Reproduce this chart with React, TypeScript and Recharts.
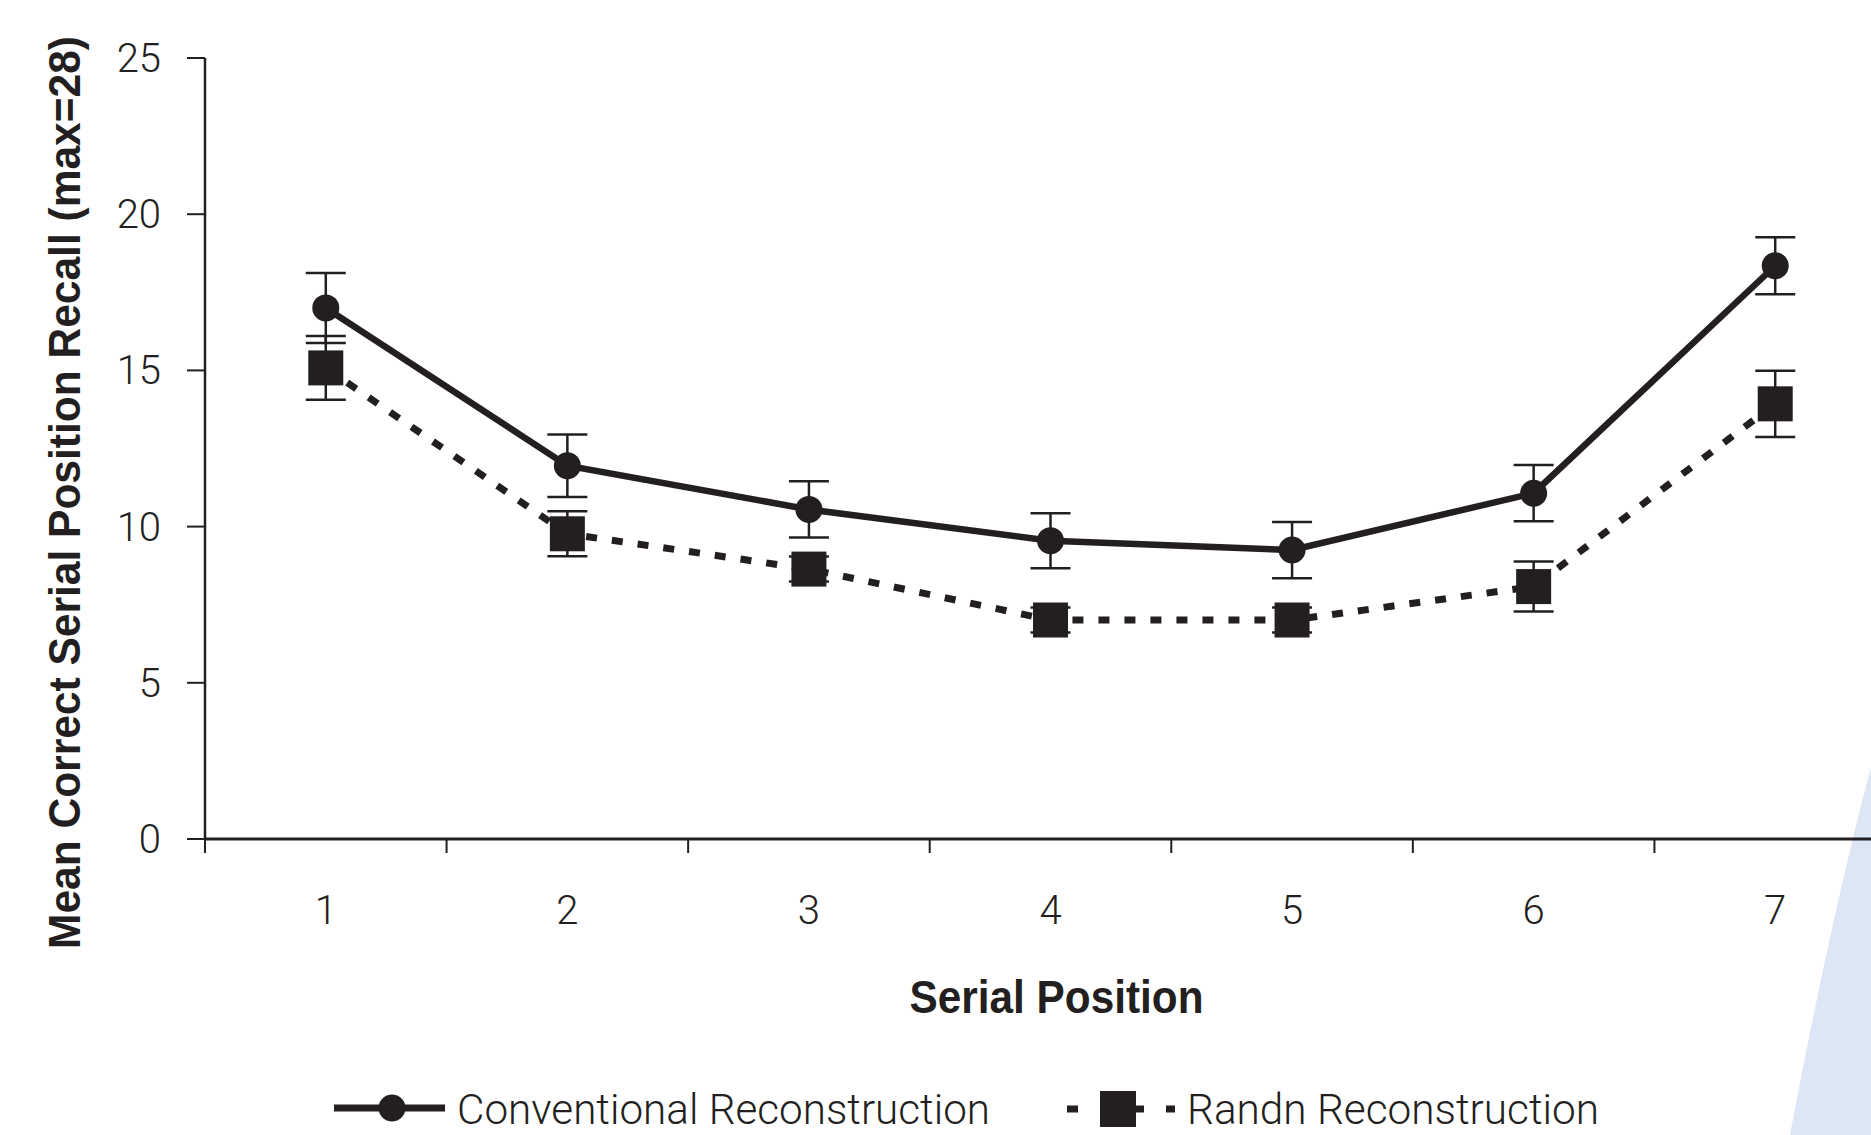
import React from "react";
import { ComposedChart, Line, XAxis, YAxis, ErrorBar, Label } from "recharts";

const categories = [1, 2, 3, 4, 5, 6, 7];
const conventional = [17.0, 11.95, 10.55, 9.55, 9.25, 11.07, 18.35];
const conventionalErr = [1.12, 1.0, 0.9, 0.88, 0.9, 0.9, 0.91];
const randn = [15.08, 9.77, 8.64, 7.01, 7.01, 8.08, 13.93];
const randnErr = [1.02, 0.72, 0.4, 0.4, 0.4, 0.8, 1.06];
const yTicks = [0, 5, 10, 15, 20, 25];
const seriesNames = ["Conventional Reconstruction", "Randn Reconstruction"];
const xTitle = "Serial Position";
const yTitle = "Mean Correct Serial Position Recall (max=28)";

const data = categories.map((c, i) => ({
  pos: c,
  conv: conventional[i],
  convErr: conventionalErr[i],
  randn: randn[i],
  randnErr: randnErr[i],
}));
const xTicks = categories.flatMap((c) => [c - 0.5, c]);

const INK = "#231f20";
const LIGHT = "Roboto, 'Liberation Sans', sans-serif";
const BOLD = "'Liberation Sans Narrow', 'Liberation Sans', Arial, sans-serif";

const XTick = (props: any) => {
  const { x, y, payload } = props;
  const v = payload.value;
  if (Number.isInteger(v)) {
    return (
      <text x={x} y={y + 85} textAnchor="middle" fontFamily={LIGHT} fontWeight={300} fontSize={40} fill={INK}>
        {v}
      </text>
    );
  }
  return <line x1={x} x2={x} y1={y} y2={y + 14} stroke={INK} strokeWidth={2} />;
};

const YTick = (props: any) => {
  const { x, y, payload } = props;
  return (
    <text x={x} y={y + 14} textAnchor="end" fontFamily={LIGHT} fontWeight={300} fontSize={40} fill={INK}>
      {payload.value}
    </text>
  );
};

const SquareDot = (props: any) => {
  const { cx, cy, index } = props;
  if (cx == null || cy == null) return null;
  return <rect key={`sq-${index}`} x={cx - 17.5} y={cy - 17.5} width={35} height={35} fill={INK} />;
};

export default function App() {
  return (
    <div style={{ position: "absolute", left: 0, top: 0, width: 1871, height: 1135, overflow: "hidden", background: "#fff" }}>
      <svg width={1871} height={1135} style={{ position: "absolute", left: 0, top: 0 }}>
        <path d="M1871,768 C1852,835 1818,985 1790,1135 L1871,1135 Z" fill="#dde6f4" />
      </svg>
      <div style={{ position: "absolute", left: 0, top: 0 }}>
        <ComposedChart width={1900} height={1135} data={data} margin={{ top: 58, right: 4, bottom: 0, left: 0 }}>
          <XAxis
            dataKey="pos"
            type="number"
            domain={[0.5, 7.5]}
            ticks={xTicks}
            interval={0}
            tickLine={false}
            tickSize={0}
            tickMargin={0}
            tick={<XTick />}
            axisLine={{ stroke: INK, strokeWidth: 3 }}
            height={296}
            allowDataOverflow
          >
            <Label
              content={(p: any) => {
                const vb = p.viewBox;
                return (
                  <text
                    x={vb.x + vb.width / 2 + 6}
                    y={vb.y + 174}
                    textAnchor="middle"
                    fontFamily={BOLD}
                    fontWeight={700}
                    fontSize={46}
                    fill={INK}
                    textLength={294}
                    lengthAdjust="spacingAndGlyphs"
                  >
                    {xTitle}
                  </text>
                );
              }}
            />
          </XAxis>
          <YAxis
            type="number"
            domain={[0, 25]}
            ticks={yTicks}
            interval={0}
            width={205}
            tickSize={18}
            tickMargin={26}
            tick={<YTick />}
            tickLine={{ stroke: INK, strokeWidth: 2 }}
            axisLine={{ stroke: INK, strokeWidth: 2.5 }}
          >
            <Label
              content={(p: any) => {
                const vb = p.viewBox;
                const cx = 80;
                const cy = vb.y + vb.height / 2 + 44;
                return (
                  <text
                    x={cx}
                    y={cy}
                    transform={`rotate(-90, ${cx}, ${cy})`}
                    textAnchor="middle"
                    fontFamily={BOLD}
                    fontWeight={700}
                    fontSize={44}
                    fill={INK}
                    textLength={913}
                    lengthAdjust="spacingAndGlyphs"
                  >
                    {yTitle}
                  </text>
                );
              }}
            />
          </YAxis>
          <Line
            dataKey="randn"
            name={seriesNames[1]}
            stroke={INK}
            strokeWidth={7}
            strokeDasharray="11 15"
            dot={<SquareDot />}
            activeDot={false}
            isAnimationActive={false}
          >
            <ErrorBar dataKey="randnErr" direction="y" width={20} stroke={INK} strokeWidth={2.5} />
          </Line>
          <Line
            dataKey="conv"
            name={seriesNames[0]}
            stroke={INK}
            strokeWidth={6.5}
            dot={{ r: 13.5, fill: INK, stroke: "none" }}
            activeDot={false}
            isAnimationActive={false}
          >
            <ErrorBar dataKey="convErr" direction="y" width={20} stroke={INK} strokeWidth={2.5} />
          </Line>
        </ComposedChart>
      </div>
      <svg width={1871} height={1135} style={{ position: "absolute", left: 0, top: 0, pointerEvents: "none" }}>
        <line x1={334} x2={445} y1={1108} y2={1108} stroke={INK} strokeWidth={7} />
        <circle cx={392} cy={1108} r={13.5} fill={INK} />
        <text x={457} y={1124} fontFamily={LIGHT} fontWeight={300} fontSize={42} fill={INK} textLength={533} lengthAdjust="spacingAndGlyphs">
          {seriesNames[0]}
        </text>
        <line x1={1067} x2={1175} y1={1109} y2={1109} stroke={INK} strokeWidth={7} strokeDasharray="11 22" />
        <rect x={1100} y={1091} width={36} height={36} fill={INK} />
        <text x={1187} y={1124} fontFamily={LIGHT} fontWeight={300} fontSize={42} fill={INK} textLength={412} lengthAdjust="spacingAndGlyphs">
          {seriesNames[1]}
        </text>
      </svg>
    </div>
  );
}
